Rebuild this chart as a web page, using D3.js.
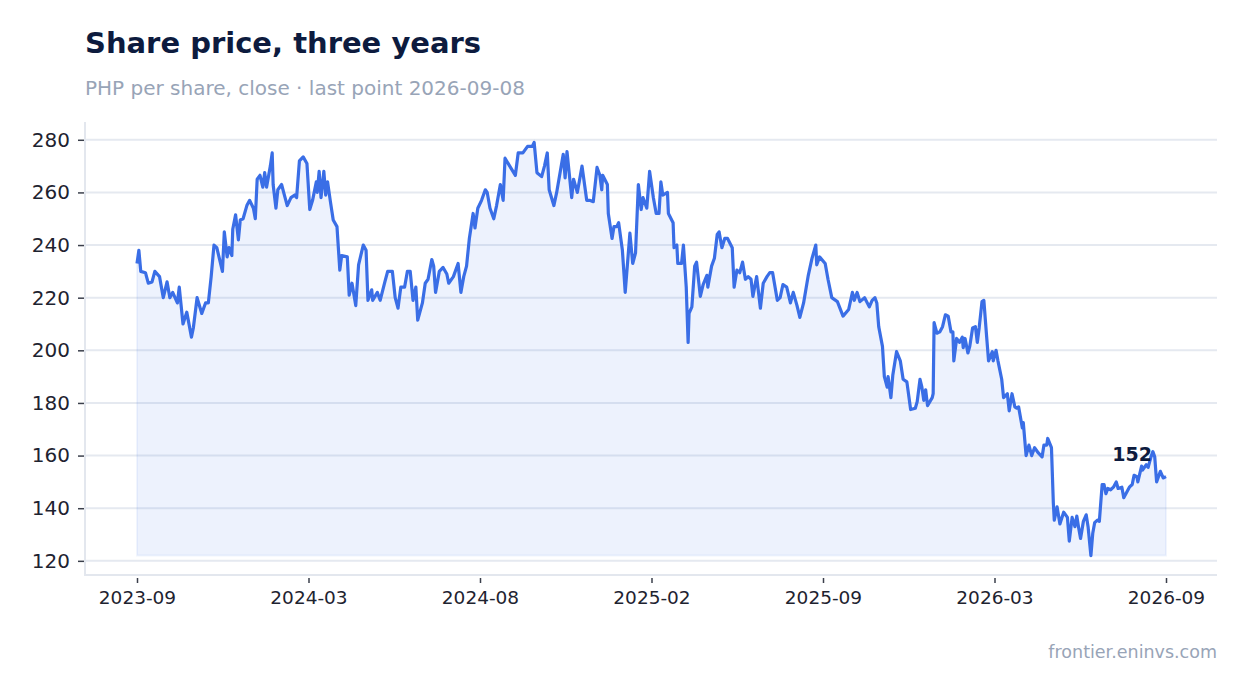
<!DOCTYPE html>
<html>

<head>
    <meta charset="utf-8">
    <script src="https://d3js.org/d3.v7.min.js"></script>
    <style>
        body { margin: 0; background: #fff; }
        svg { display: block; font-family: "DejaVu Sans", sans-serif; }
    </style>
</head>

<body>
    <script type="text/javascript">
        // closes; offsets are days since the first close
        const firstDate = "2023-09-08";
        const dayOffsets = [
            0, 2, 4, 9, 12, 16, 19, 24, 28, 32, 35, 38, 43, 45, 49, 53, 58, 60, 64, 69,
            73, 76, 79, 82, 85, 91, 93, 96, 98, 101, 102, 105, 108, 110, 113, 117, 120, 124, 126, 128,
            131, 134, 136, 138, 142, 144, 145, 148, 150, 154, 157, 160, 164, 168, 170, 173, 177, 181, 184, 187,
            191, 192, 194, 196, 199, 201, 203, 206, 209, 213, 216, 218, 224, 226, 229, 233, 236, 241, 244, 246,
            250, 251, 256, 259, 264, 267, 272, 275, 278, 281, 285, 288, 291, 294, 297, 299, 304, 307, 310, 314,
            316, 318, 322, 326, 330, 332, 337, 342, 345, 348, 351, 354, 358, 360, 363,
            367, 371, 373, 376, 380, 383, 387, 390, 392, 397, 403, 406, 411, 416, 421, 423, 426, 431, 434, 437,
            439, 444, 447, 454, 456, 458, 463, 465, 469, 474, 479, 482, 486, 490, 493, 495, 496, 501, 502, 506,
            508, 511, 513, 517, 520, 525, 528, 531, 534, 537, 539, 543, 546, 550, 553, 556, 558, 560, 565, 566,
            571, 572, 575, 576, 580, 582, 585, 587, 588, 591, 594, 596, 600, 603, 607, 608, 612, 615, 618, 620,
            623, 626, 629, 634, 636, 639, 642, 645, 648, 651, 654, 656, 660, 664, 667, 671, 674, 677, 682, 685,
            688, 692, 696, 699, 703, 706, 710, 715, 719, 723, 724,
            727, 733, 736, 740, 746, 752, 758, 762, 764, 767, 770, 775, 780, 783, 786, 788, 790, 794, 796, 799,
            800, 803, 805, 809, 813, 816, 820, 824, 829, 831, 834, 836, 838, 840, 842, 847, 848, 849, 852, 855,
            858, 861, 864, 867, 869, 870, 873, 876, 879, 880, 882, 885, 887, 890, 893, 895, 897, 900, 902, 905,
            907, 911, 912, 915, 917,
            921, 923, 927, 929, 932, 935, 937, 939, 943, 944, 947, 950, 953, 956, 960, 964, 966, 969, 970, 974,
            976, 977, 980, 983, 987, 991, 993, 996, 999, 1001, 1003, 1005, 1008, 1011, 1013, 1016, 1018, 1020, 1023, 1025,
            1028, 1030, 1032, 1034, 1037, 1040, 1043, 1045, 1049, 1051, 1054, 1057, 1060, 1062, 1065, 1066, 1070, 1071, 1075, 1077,
            1080, 1082, 1084, 1086, 1090, 1093, 1096
        ];
        const closes = [
            233, 238, 230, 229.5, 225.5, 226, 230, 228, 220, 226, 220, 222, 218, 224, 210, 214.5, 205, 208.5, 220, 214,
            218, 218, 228, 240, 239, 230, 245, 235.5, 239, 236, 246, 251.5, 242, 249.5, 250, 255, 257, 254, 250, 265,
            266.5, 262, 267.5, 262, 270, 275, 263, 254, 261, 263, 259, 255, 258, 259, 258, 272, 273.5, 271, 253.5, 257,
            264, 260, 268, 258, 268, 259, 264, 256.5, 249.5, 247, 230.5, 236, 235.5, 221, 225.5, 217, 232.5, 240, 238, 219,
            223, 219, 222, 219, 226, 230, 230, 220, 216, 224, 224, 230, 230, 219, 224, 211.5, 218, 225.5, 227, 234.5,
            232, 222, 230, 231.5, 229, 225.5, 228, 233, 222, 228, 232, 242.5, 252, 246.5, 254,
            257, 261, 260, 254, 250, 255, 263, 257, 273, 270, 266.5, 275, 275, 277.5, 277.5, 279, 267.5, 266, 270, 275,
            261, 255, 260, 274.5, 265.5, 275.5, 258, 265, 260, 270, 257, 257, 256.5, 269.5, 266.5, 261, 266.5, 263, 252, 242.5,
            247, 247, 248.5, 238, 222, 244.5, 233, 237, 263, 253.5, 258, 254, 268, 258, 252, 252, 264, 259, 260, 252,
            248.5, 239, 240, 233, 233, 240, 224, 203, 214, 216.5, 232, 233.5, 220.5, 225, 228.5, 224, 232, 235, 244, 245,
            239, 242.5, 242.5, 239, 224, 230.5, 229.5, 233.5, 227, 228, 227, 220.5, 228, 216, 225.5, 228, 229.5, 229.5, 219, 220,
            225, 224, 218, 222, 217, 212.5, 218, 228.5, 235, 240, 232.5,
            235.5, 233, 227, 220, 218.5, 213, 215.5, 222, 219, 222, 218.5, 220, 216.5, 219, 220, 218, 209, 201.5, 190, 186,
            190, 182, 190.5, 199.5, 196, 189, 188, 177.5, 178, 180.5, 189, 186, 181, 185, 179, 182, 183.5, 210.5, 206.5, 207,
            209, 213.5, 213, 207, 207, 196, 204.5, 203, 205, 201, 204.5, 199, 201.5, 208.5, 209, 203, 208.5, 218.5, 219, 205,
            196, 199.5, 196, 200, 196,
            189, 182, 183.5, 177, 183.5, 178.5, 178, 178.5, 170.5, 172.5, 160, 164, 160, 163, 161, 159.5, 164, 164, 166.5, 163,
            142, 135.5, 140.5, 134, 138.5, 136.5, 127.5, 136.5, 133, 137, 132.5, 128.5, 135, 137.5, 133, 122, 130.5, 134.5, 135.5, 135,
            149, 149, 145.5, 147.5, 147, 148, 150, 147.5, 148, 144, 146, 148, 149, 152.5, 152, 150, 156, 154.5, 156.5, 155.5,
            159.5, 161.5, 159.5, 150, 154, 151.5, 152
        ];
        const yTicks = [120, 140, 160, 180, 200, 220, 240, 260, 280];
        const xTickLabels = ["2023-09", "2024-03", "2024-08", "2025-02", "2025-09", "2026-03", "2026-09"];

        let width = 1247,
            height = 693;

        let frame = { left: 85, right: 1217, top: 122, bottom: 575 };

        let start = d3.timeParse("%Y-%m-%d")(firstDate);
        let data = dayOffsets.map((d, i) => ({ date: d3.timeDay.offset(start, d), close: closes[i] }));

        let svg = d3.select("body")
            .append("svg")
                .attr("width", width)
                .attr("height", height);

        let x = d3.scaleTime()
            .domain(d3.extent(data, d => d.date))
            .range([137, 1166]);

        let lo = d3.min(closes), hi = d3.max(closes);
        let pad = (hi - lo) * 0.047;
        let y = d3.scaleLinear()
            .domain([lo - pad, hi + pad])
            .range([frame.bottom, frame.top + 1]);

        // title block
        svg.append("text")
            .attr("x", 85).attr("y", 53)
            .attr("font-size", 29).attr("font-weight", "bold")
            .attr("fill", "#0d1b3e")
            .text("Share price, three years");
        svg.append("text")
            .attr("x", 85).attr("y", 95)
            .attr("font-size", 20)
            .attr("fill", "#98a4b7")
            .text("PHP per share, close \u00b7 last point 2026-09-08");

        // grid
        svg.append("g")
            .selectAll("line")
            .data(yTicks)
            .join("line")
                .attr("x1", frame.left).attr("x2", frame.right)
                .attr("y1", d => y(d)).attr("y2", d => y(d))
                .attr("stroke", "#e5e9f0")
                .attr("stroke-width", 2);

        // frame
        svg.append("path")
            .attr("d", `M${frame.left},${frame.top}V${frame.bottom}H${frame.right}`)
            .attr("fill", "none")
            .attr("stroke", "#e3e7ee")
            .attr("stroke-width", 2);

        let area = d3.area()
            .x(d => x(d.date))
            .y0(y(lo))
            .y1(d => y(d.close));

        svg.append("path")
            .datum(data)
            .attr("d", area)
            .attr("fill", "rgba(59,110,232,0.09)")
            .attr("stroke", "rgba(59,110,232,0.07)")
            .attr("stroke-width", 2);

        let line = d3.line()
            .x(d => x(d.date))
            .y(d => y(d.close));

        svg.append("path")
            .datum(data)
            .attr("d", line)
            .attr("fill", "none")
            .attr("stroke", "#3a6ee6")
            .attr("stroke-width", 3.2)
            .attr("stroke-linejoin", "round");

        // axes
        let [d0, d1] = x.domain();
        let xTickValues = xTickLabels.map((_, i) => new Date(+d0 + (d1 - d0) * i / (xTickLabels.length - 1)));

        let xAxis = svg.append("g")
            .attr("transform", `translate(0,${frame.bottom + 3})`)
            .call(d3.axisBottom(x)
                .tickValues(xTickValues)
                .tickFormat((d, i) => xTickLabels[i])
                .tickSize(5)
                .tickPadding(8));

        let yAxis = svg.append("g")
            .attr("transform", `translate(${frame.left - 1},0)`)
            .call(d3.axisLeft(y)
                .tickValues(yTicks)
                .tickSize(6)
                .tickPadding(8));

        [xAxis, yAxis].forEach(g => {
            g.select(".domain").remove();
            g.selectAll(".tick line").attr("stroke", "#3a3f4b").attr("stroke-width", 1.5);
            g.selectAll(".tick text").attr("fill", "#1e2330").attr("font-family", "DejaVu Sans");
        });
        xAxis.selectAll(".tick text").attr("font-size", 18.5);
        yAxis.selectAll(".tick text").attr("font-size", 20);

        // last value label
        let last = data[data.length - 1];
        svg.append("text")
            .attr("x", x(last.date) - 14)
            .attr("y", y(last.close) - 16)
            .attr("text-anchor", "end")
            .attr("font-size", 19).attr("font-weight", "bold")
            .attr("fill", "#0d1b3e")
            .text(d3.format(".0f")(last.close));

        svg.append("text")
            .attr("x", frame.right).attr("y", 658)
            .attr("text-anchor", "end")
            .attr("font-size", 17.5)
            .attr("fill", "#98a4b7")
            .text("frontier.eninvs.com");
    </script>
</body>

</html>
